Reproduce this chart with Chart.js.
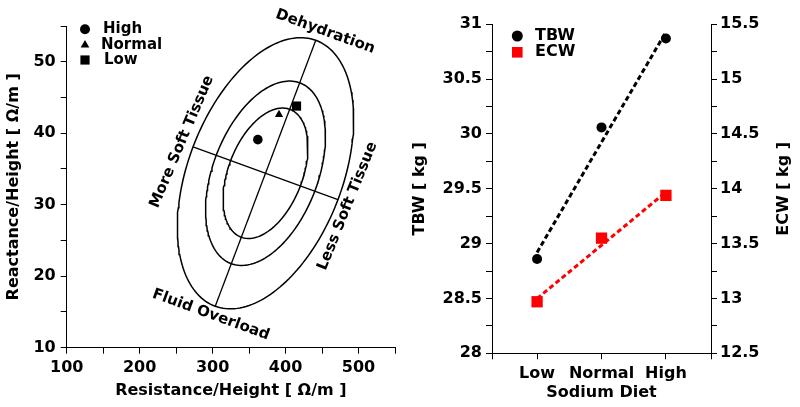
<!DOCTYPE html>
<html>
<head>
<meta charset="utf-8">
<script src="https://cdn.jsdelivr.net/npm/chart.js@4.4.1/dist/chart.umd.min.js"></script>
<style>
  html, body { margin: 0; padding: 0; background: #fff; }
  #wrap { width: 800px; height: 407px; display: flex; }
  .box { width: 400px; height: 407px; }
  canvas { display: block; }
</style>
</head>
<body>
<div id="wrap">
  <div class="box"><canvas id="rxcChart" width="400" height="407"></canvas></div>
  <div class="box"><canvas id="waterChart" width="400" height="407"></canvas></div>
</div>
<script>
// ---- left panel: RXc graph ----
const dietGroups = ['High', 'Normal', 'Low'];
const groupStyles = ['circle', 'triangle', 'rect'];
const groupRadius = [4.8, 4.8, 6.5];
const resistance = [362, 391, 415];     // R/H [ohm/m]
const reactance = [39.1, 42.6, 43.8];   // Xc/H [ohm/m]

// tolerance ellipses (50 / 75 / 95 %): centre + conjugate half axes, data units
const ellipseCenter = [372.5, 34.4];
const majorHalfAxis = [68.9, 18.6];
const minorHalfAxis = [99.3, -3.7];
const ellipseScales = [0.481, 0.68, 1];

const zoneLabels = ['Dehydration', 'Fluid Overload', 'More Soft Tissue', 'Less Soft Tissue'];
const zoneLabelX = [454.5, 297.7, 258, 485];
const zoneLabelY = [54.2, 14.6, 38.8, 29.8];
const zoneLabelAngle = [20, 20, -67, -68];

// ---- right panel: body water vs sodium diet ----
const sodiumDiet = ['Low', 'Normal', 'High'];
const tbw = [28.86, 30.06, 30.87];   // kg
const ecw = [12.97, 13.55, 13.94];   // kg
const tbwFit = [28.92, 30.93];       // dashed trend, Low -> High
const ecwFit = [13.0, 13.97];

Chart.defaults.font.family = 'DejaVu Sans';
Chart.defaults.color = '#000';

const FONT_TICK = { family: 'DejaVu Sans', size: 16, weight: 'bold' };
const FONT_TITLE = { family: 'DejaVu Sans', size: 16, weight: 'bold' };

function ellipsePoints(scale) {
    const pts = [];
    for (let i = 0; i <= 180; i++) {
        const t = (i / 180) * Math.PI * 2;
        pts.push({
            x: ellipseCenter[0] + scale * (Math.cos(t) * majorHalfAxis[0] + Math.sin(t) * minorHalfAxis[0]),
            y: ellipseCenter[1] + scale * (Math.cos(t) * majorHalfAxis[1] + Math.sin(t) * minorHalfAxis[1])
        });
    }
    return pts;
}

function axisLine(v) {
    return [
        { x: ellipseCenter[0] - v[0], y: ellipseCenter[1] - v[1] },
        { x: ellipseCenter[0] + v[0], y: ellipseCenter[1] + v[1] }
    ];
}

function axisGrid() {
    return { drawOnChartArea: false, drawTicks: true, tickLength: 6, color: '#000', tickWidth: 1 };
}

// draws a small legend inside the plot
function legendPlugin(id, items) {
    return {
        id: id,
        afterDraw(chart) {
            const ctx = chart.ctx;
            ctx.save();
            items.forEach(it => {
                ctx.fillStyle = it.color;
                ctx.strokeStyle = it.color;
                Chart.helpers.drawPoint(ctx, { pointStyle: it.style, radius: it.radius, rotation: 0, borderWidth: 0 }, it.x, it.y);
                ctx.fillStyle = '#000';
                ctx.font = `bold ${it.size}px "DejaVu Sans"`;
                ctx.textBaseline = 'middle';
                ctx.textAlign = 'left';
                ctx.fillText(it.text, it.tx, it.y);
            });
            ctx.restore();
        }
    };
}

const zoneLabelPlugin = {
    id: 'zoneLabels',
    afterDatasetsDraw(chart) {
        const { ctx, scales } = chart;
        ctx.save();
        ctx.fillStyle = '#000';
        ctx.font = 'bold 15px "DejaVu Sans"';
        ctx.textAlign = 'center';
        ctx.textBaseline = 'middle';
        zoneLabels.forEach((txt, i) => {
            ctx.save();
            ctx.translate(scales.x.getPixelForValue(zoneLabelX[i]), scales.y.getPixelForValue(zoneLabelY[i]));
            ctx.rotate(zoneLabelAngle[i] * Math.PI / 180);
            ctx.fillText(txt, 0, 0);
            ctx.restore();
        });
        ctx.restore();
    }
};

// right axis title reads bottom-to-top like the left one
const rightTitlePlugin = {
    id: 'rightTitle',
    afterDraw(chart) {
        const { ctx, chartArea } = chart;
        ctx.save();
        ctx.fillStyle = '#000';
        ctx.font = 'bold 16px "DejaVu Sans"';
        ctx.textAlign = 'center';
        ctx.textBaseline = 'middle';
        ctx.translate(chart.width - 16, (chartArea.top + chartArea.bottom) / 2);
        ctx.rotate(-Math.PI / 2);
        ctx.fillText('ECW [ kg ]', 0, 0);
        ctx.restore();
    }
};

// ---- left chart ----
const rxcDatasets = [];
dietGroups.forEach((g, i) => {
    rxcDatasets.push({
        label: g,
        data: [{ x: resistance[i], y: reactance[i] }],
        pointStyle: groupStyles[i],
        pointRadius: groupRadius[i],
        backgroundColor: '#000',
        borderColor: '#000',
        borderWidth: 0,
        showLine: false,
        order: 0
    });
});
ellipseScales.forEach(s => {
    rxcDatasets.push({
        data: ellipsePoints(s),
        showLine: true,
        pointRadius: 0,
        borderColor: '#000',
        borderWidth: 1.5,
        fill: false,
        order: 1
    });
});
[majorHalfAxis, minorHalfAxis].forEach(v => {
    rxcDatasets.push({
        data: axisLine(v),
        showLine: true,
        pointRadius: 0,
        borderColor: '#000',
        borderWidth: 1.3,
        order: 1
    });
});

new Chart(document.getElementById('rxcChart'), {
    type: 'scatter',
    data: { datasets: rxcDatasets },
    options: {
        responsive: false,
        animation: false,
        clip: false,
        layout: { autoPadding: false, padding: { top: 26, right: 0, left: 0, bottom: 0 } },
        plugins: { legend: { display: false }, tooltip: { enabled: false } },
        scales: {
            x: {
                type: 'linear',
                min: 100,
                max: 550,
                border: { color: '#000', width: 1 },
                grid: axisGrid(),
                ticks: {
                    stepSize: 50,
                    autoSkip: false,
                    maxRotation: 0,
                    padding: 5,
                    font: FONT_TICK,
                    callback: v => (v % 100 === 0 ? String(v) : '')
                },
                title: { display: true, text: 'Resistance/Height [ Ω/m ]', font: FONT_TITLE, padding: { top: 0, bottom: 7 } },
                afterFit: s => { s.height = 59.3; }
            },
            y: {
                type: 'linear',
                min: 10,
                max: 55,
                border: { color: '#000', width: 1 },
                grid: axisGrid(),
                ticks: {
                    stepSize: 5,
                    autoSkip: false,
                    padding: 5,
                    font: FONT_TICK,
                    callback: v => (v % 10 === 0 ? String(v) : '')
                },
                title: { display: true, text: 'Reactance/Height [ Ω/m ]', font: FONT_TITLE, padding: { top: 4.5, bottom: 0 } },
                afterFit: s => { s.width = 66.7; }
            }
        }
    },
    plugins: [
        zoneLabelPlugin,
        legendPlugin('rxcLegend', dietGroups.map((g, i) => ({
            text: g, style: groupStyles[i], radius: [5, 5, 6.5][i], color: '#000',
            x: 85, y: [29.3, 45, 60][i], tx: [103, 101, 104][i], size: 15
        })))
    ]
});

// ---- right chart ----
const halfStep = v => Math.abs(v * 2 - Math.round(v * 2)) < 1e-6;

new Chart(document.getElementById('waterChart'), {
    type: 'scatter',
    data: {
        datasets: [
            {
                label: 'TBW',
                data: tbw.map((v, i) => ({ x: i + 1, y: v })),
                yAxisID: 'y',
                pointStyle: 'circle',
                pointRadius: 5,
                backgroundColor: '#000',
                borderWidth: 0,
                order: 0
            },
            {
                label: 'ECW',
                data: ecw.map((v, i) => ({ x: i + 1, y: v })),
                yAxisID: 'y1',
                pointStyle: 'rect',
                pointRadius: 8,
                backgroundColor: '#ff0000',
                borderWidth: 0,
                order: 0
            },
            {
                data: [{ x: 1, y: tbwFit[0] }, { x: 3, y: tbwFit[1] }],
                yAxisID: 'y',
                showLine: true,
                pointRadius: 0,
                borderColor: '#000',
                borderWidth: 3,
                borderDash: [5, 3],
                order: 1
            },
            {
                data: [{ x: 1, y: ecwFit[0] }, { x: 3, y: ecwFit[1] }],
                yAxisID: 'y1',
                showLine: true,
                pointRadius: 0,
                borderColor: '#ff0000',
                borderWidth: 3,
                borderDash: [5, 3],
                order: 1
            }
        ]
    },
    options: {
        responsive: false,
        animation: false,
        clip: false,
        layout: { autoPadding: false, padding: { top: 24.3, right: 0, left: 0, bottom: 0 } },
        plugins: { legend: { display: false }, tooltip: { enabled: false } },
        scales: {
            x: {
                type: 'linear',
                min: 0.3,
                max: 3.7,
                border: { color: '#000', width: 1 },
                grid: axisGrid(),
                afterBuildTicks: s => { s.ticks = [0.3, 1, 2, 3, 3.7].map(v => ({ value: v })); },
                ticks: {
                    autoSkip: false,
                    maxRotation: 0,
                    padding: 5,
                    font: FONT_TICK,
                    callback: v => (Number.isInteger(v) ? sodiumDiet[v - 1] : '')
                },
                title: { display: true, text: 'Sodium Diet', font: FONT_TITLE, padding: { top: 0, bottom: 4.4 } },
                afterFit: s => { s.height = 53.7; }
            },
            y: {
                type: 'linear',
                position: 'left',
                min: 28,
                max: 31,
                border: { color: '#000', width: 1 },
                grid: axisGrid(),
                ticks: {
                    stepSize: 0.25,
                    autoSkip: false,
                    padding: 4,
                    font: FONT_TICK,
                    callback: v => (halfStep(v) ? String(v) : '')
                },
                title: { display: true, text: 'TBW [ kg ]', font: FONT_TITLE, padding: { top: 10.4, bottom: 0 } },
                afterFit: s => { s.width = 92; }
            },
            y1: {
                type: 'linear',
                position: 'right',
                min: 12.5,
                max: 15.5,
                border: { color: '#000', width: 1 },
                grid: axisGrid(),
                ticks: {
                    stepSize: 0.25,
                    autoSkip: false,
                    padding: 3,
                    font: FONT_TICK,
                    callback: v => (halfStep(v) ? String(v) : '')
                },
                title: { display: false },
                afterFit: s => { s.width = 89; }
            }
        }
    },
    plugins: [
        rightTitlePlugin,
        legendPlugin('waterLegend', [
            { text: 'TBW', style: 'circle', radius: 5.5, color: '#000', x: 117.3, y: 36, tx: 135, size: 16 },
            { text: 'ECW', style: 'rect', radius: 7.5, color: '#ff0000', x: 117.3, y: 52.3, tx: 135, size: 16 }
        ])
    ]
});
</script>
</body>
</html>
